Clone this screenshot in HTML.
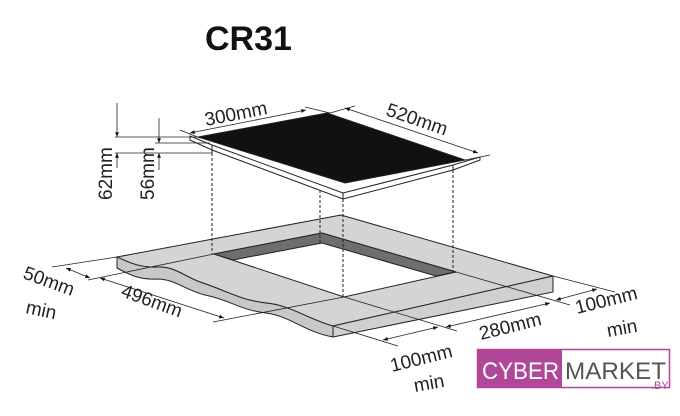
<!DOCTYPE html>
<html><head><meta charset="utf-8"><style>
html,body{margin:0;padding:0;background:#fff;}
svg{display:block;font-family:"Liberation Sans",sans-serif;}
</style></head><body>
<svg width="680" height="416" viewBox="0 0 680 416" xmlns="http://www.w3.org/2000/svg">
<defs>
<marker id="a" viewBox="0 0 10 10" refX="10" refY="5" markerWidth="6" markerHeight="6" orient="auto-start-reverse"><path d="M0,1 L10,5 L0,9 z" fill="#111"/></marker>
</defs>
<text x="205" y="50" font-size="34" font-weight="bold" fill="#111">CR31</text>

<path d="M117,257 L341,215 L553,276 L333,326 C310,320 290,305 266,303 C240,300 230,292 200,282 C185,277 175,266 157,267 C140,268 128,262 117,257 Z" fill="#d4d4d6" stroke="#222" stroke-width="1"/>
<path d="M333,326 L553,276 L553,292 L333,337 Z" fill="#d0d0d2" stroke="#222" stroke-width="1"/>
<path d="M117,257 L117,268 C130,275 140,280 157,279 C175,279 185,290 205,295 C230,300 240,310 266,313 C290,316 305,332 333,337 L333,326 C310,320 290,305 266,303 C240,300 230,292 200,282 C185,277 175,266 157,267 C140,268 128,262 117,257 Z" fill="#c8c8ca" stroke="#222" stroke-width="1"/>
<path d="M214,254 L322,233 L456,272 L344,297 Z" fill="#fff" stroke="#222" stroke-width="1"/>
<path d="M214,254 L322,233 L456,272 L436,276 L322,243 L233,260 Z" fill="#6e6e70" stroke="#222" stroke-width="1"/>

<path d="M190,136 L212,145 L343,193 L453,165 L480,157 L480,160 L453,170 L343,199 L212,150 L190,140 Z" fill="#fff" stroke="#222" stroke-width="1"/>
<path d="M212,145 L212,153 M343,193 L343,199 M453,165 L453,170" stroke="#222"/>
<path d="M198,137 L327,113 L465,160 L345,183 Z" fill="#111" stroke="#222"/>

<g stroke="#222" stroke-width="1" stroke-dasharray="3,2">
<line x1="212" y1="153" x2="212" y2="254"/>
<line x1="320" y1="190" x2="320" y2="243"/>
<line x1="343" y1="199" x2="343" y2="297"/>
<line x1="453" y1="170" x2="453" y2="272"/>
</g>

<g stroke="#222" stroke-width="0.8" fill="none">
<line x1="180" y1="130" x2="200" y2="138"/>
<line x1="305" y1="107" x2="330" y2="113"/>
<line x1="330" y1="113" x2="355" y2="106"/>
<line x1="465" y1="160" x2="490" y2="155"/>
<line x1="190" y1="133" x2="306" y2="110" marker-start="url(#a)" marker-end="url(#a)"/>
<line x1="345" y1="108" x2="478" y2="153" marker-start="url(#a)" marker-end="url(#a)"/>
<line x1="115" y1="137" x2="200" y2="137"/>
<line x1="115" y1="153" x2="212" y2="153"/>
<line x1="155" y1="143" x2="210" y2="143"/>
<line x1="117" y1="103" x2="117" y2="137" marker-end="url(#a)"/>
<line x1="117" y1="168" x2="117" y2="153" marker-end="url(#a)"/>
<line x1="159" y1="118" x2="159" y2="143" marker-end="url(#a)"/>
<line x1="159" y1="170" x2="159" y2="153" marker-end="url(#a)"/>
</g>
<text transform="translate(206,126) rotate(-11)" font-size="19" fill="#222">300mm</text>
<text transform="translate(385,115) rotate(19)" font-size="19" fill="#222">520mm</text>
<text transform="translate(112,200) rotate(-90)" font-size="19" fill="#222">62mm</text>
<text transform="translate(154,200) rotate(-90)" font-size="19" fill="#222">56mm</text>

<g stroke="#222" stroke-width="0.8" fill="none">
<line x1="52" y1="267" x2="117" y2="257"/>
<line x1="88" y1="280" x2="214" y2="254"/>
<line x1="213" y1="322" x2="344" y2="297"/>
<line x1="66" y1="268" x2="90" y2="278" marker-start="url(#a)" marker-end="url(#a)"/>
<line x1="100" y1="278" x2="224" y2="318" marker-start="url(#a)" marker-end="url(#a)"/>
<line x1="553" y1="276" x2="615" y2="292"/>
<line x1="456" y1="272" x2="570" y2="305"/>
<line x1="344" y1="297" x2="457" y2="331"/>
<line x1="333" y1="326" x2="398" y2="346"/>
<line x1="556" y1="300" x2="597" y2="289" marker-start="url(#a)" marker-end="url(#a)"/>
<line x1="446" y1="327" x2="550" y2="303" marker-start="url(#a)" marker-end="url(#a)"/>
<line x1="383" y1="340" x2="438" y2="327" marker-start="url(#a)" marker-end="url(#a)"/>
</g>
<text transform="translate(22,278) rotate(20)" font-size="19" fill="#222">50mm</text>
<text transform="translate(25,313) rotate(12)" font-size="19" fill="#222">min</text>
<text transform="translate(120,296) rotate(20)" font-size="19" fill="#222">496mm</text>
<text transform="translate(481,340) rotate(-14)" font-size="19" fill="#222">280mm</text>
<text transform="translate(577,314) rotate(-14)" font-size="19" fill="#222">100mm</text>
<text transform="translate(608,337) rotate(-10)" font-size="19" fill="#222">min</text>
<text transform="translate(392,372) rotate(-14)" font-size="19" fill="#222">100mm</text>
<text transform="translate(415,392) rotate(-10)" font-size="19" fill="#222">min</text>

<rect x="477.5" y="349.5" width="192" height="38" fill="#fff" stroke="#b0479a" stroke-width="1.5"/>
<rect x="478" y="350" width="84" height="37" fill="#b0479a"/>
<text x="482" y="379" font-size="24" fill="#fff" textLength="77" lengthAdjust="spacingAndGlyphs">CYBER</text>
<text x="565" y="379" font-size="24" fill="#555" textLength="101" lengthAdjust="spacingAndGlyphs">MARKET</text>
<text x="651" y="389" font-size="11" fill="#b0479a">.BY</text>
</svg>
</body></html>
